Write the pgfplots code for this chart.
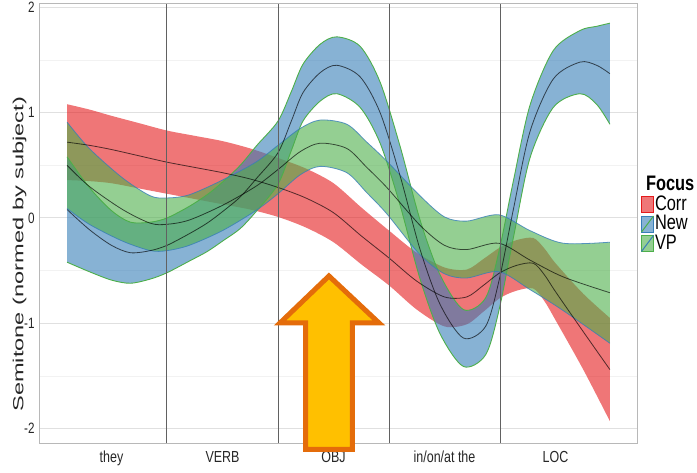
\documentclass[border=0pt]{standalone}
\usepackage{fontspec}
\setmainfont{Liberation Sans}
\newfontfamily\narrow[FakeStretch=0.78]{Liberation Sans}
\usepackage{graphicx}
\usepackage{pgfplots}
\usepackage{pgfplotstable}
\pgfplotsset{compat=1.18}
\usepgfplotslibrary{fillbetween}
\definecolor{cred}{HTML}{E41A1C}
\definecolor{cblue}{HTML}{377EB8}
\definecolor{cgreen}{HTML}{4DAF4A}
\definecolor{arrfill}{HTML}{FFC000}
\definecolor{arredge}{HTML}{E46C0A}

\pgfplotstableread{
u m lo hi
0.10 0.72 0.36 1.08
0.30 0.69 0.35 1.03
0.50 0.65 0.33 0.97
0.75 0.59 0.28 0.90
1.00 0.53 0.23 0.83
1.25 0.48 0.18 0.78
1.50 0.43 0.13 0.73
1.75 0.37 0.08 0.66
2.00 0.29 0.01 0.57
2.25 0.19 -0.09 0.47
2.50 0.05 -0.23 0.33
2.75 -0.17 -0.44 0.10
3.00 -0.38 -0.64 -0.12
3.25 -0.60 -0.87 -0.33
3.50 -0.75 -1.03 -0.47
3.70 -0.75 -1.01 -0.49
3.85 -0.64 -0.89 -0.39
4.00 -0.52 -0.76 -0.28
4.15 -0.45 -0.69 -0.21
4.30 -0.43 -0.67 -0.19
4.40 -0.54 -0.79 -0.29
4.50 -0.70 -0.97 -0.43
4.75 -1.08 -1.44 -0.72
4.99 -1.44 -1.93 -0.95
}\tcorr

\pgfplotstableread{
u m lo hi
0.10 0.08 -0.42 0.58
0.30 -0.11 -0.51 0.29
0.50 -0.26 -0.59 0.07
0.67 -0.33 -0.62 -0.04
0.85 -0.31 -0.58 -0.04
1.00 -0.26 -0.52 0.00
1.20 -0.15 -0.41 0.11
1.36 -0.05 -0.32 0.22
1.50 0.06 -0.22 0.34
1.66 0.20 -0.10 0.50
1.81 0.38 0.07 0.69
2.00 0.62 0.32 0.92
2.12 0.92 0.64 1.20
2.225 1.19 0.92 1.46
2.38 1.38 1.11 1.65
2.53 1.45 1.18 1.72
2.74 1.34 1.05 1.63
2.92 1.00 0.71 1.29
3.10 0.40 0.12 0.68
3.28 -0.30 -0.58 -0.02
3.46 -0.82 -1.10 -0.54
3.67 -1.14 -1.41 -0.87
3.87 -1.03 -1.30 -0.76
3.99 -0.60 -0.88 -0.32
4.12 0.08 -0.19 0.35
4.27 0.82 0.57 1.07
4.48 1.32 1.05 1.59
4.72 1.48 1.18 1.78
4.87 1.45 1.08 1.82
4.99 1.37 0.89 1.85
}\tnew

\pgfplotstableread{
u m lo hi
0.10 0.50 0.09 0.91
0.30 0.30 -0.06 0.66
0.60 0.08 -0.22 0.38
0.85 -0.05 -0.31 0.21
1.00 -0.06 -0.31 0.19
1.20 -0.02 -0.26 0.22
1.50 0.12 -0.12 0.36
1.80 0.30 0.07 0.53
2.00 0.46 0.23 0.69
2.20 0.63 0.41 0.85
2.38 0.71 0.49 0.93
2.62 0.66 0.43 0.89
2.80 0.48 0.24 0.72
2.98 0.29 0.04 0.54
3.28 -0.07 -0.35 0.21
3.50 -0.26 -0.53 0.01
3.70 -0.30 -0.57 -0.03
3.99 -0.24 -0.51 0.03
4.27 -0.40 -0.68 -0.12
4.57 -0.56 -0.88 -0.24
4.99 -0.71 -1.19 -0.23
}\tvp

\begin{document}
\begin{tikzpicture}
\begin{axis}[
  at={(0,0)}, anchor=south west,
  scale only axis, width=298.5pt, height=219.5pt,
  xmin=-0.144, xmax=5.234, ymin=-2.137, ymax=2.032,
  xtick={0.5,1.5,2.5,3.5,4.5},
  xticklabels={they,VERB,OBJ,in/on/at the,LOC},
  ytick={-2,-1,0,1,2}, yticklabels={-2,-1,0,1,2},
  minor ytick={-1.5,-0.5,0.5,1.5},
  ymajorgrids, yminorgrids,
  major grid style={draw=black!12, line width=0.5pt},
  minor grid style={draw=black!5, line width=0.4pt},
  axis line style={draw=black!28, line width=0.5pt},
  major tick length=0pt, minor tick length=0pt,
  tick label style={text=black!85},
  xticklabel style={font=\narrow\fontsize{8}{9}\selectfont, inner sep=0pt, yshift=-4pt},
  yticklabel style={font=\narrow\fontsize{7.5}{8}\selectfont, inner sep=0pt, xshift=-2.5pt},
  ylabel={\scalebox{1}[0.62]{Semitone (normed by subject)}},
  ylabel style={font=\fontsize{11.8}{13}\selectfont, text=black!85, at={(axis description cs:-0.034,0.43)}, anchor=center},
  clip=false,
  legend style={at={(1.0067,0.61)}, anchor=north west, draw=none, fill=none,
    inner sep=0pt, outer sep=0pt, row sep=0pt,
    font=\narrow\fontsize{10.5}{10.5}\selectfont,
    nodes={inner sep=0.5pt}},
  legend cell align=left,
]
\addlegendimage{empty legend}
\addlegendentry{\hspace*{-4.5pt}\textbf{Focus}}
\addlegendimage{legend image code/.code={\fill[cred, fill opacity=0.6] (0pt,-4pt) rectangle (6pt,4pt);}}
\addlegendentry{Corr}
\addlegendimage{legend image code/.code={\fill[cblue, fill opacity=0.6] (0pt,-4pt) rectangle (6pt,4pt); \draw[cgreen, line width=0.5pt] (0pt,-4pt) -- (6pt,4pt);}}
\addlegendentry{New}
\addlegendimage{legend image code/.code={\fill[cgreen, fill opacity=0.6] (0pt,-4pt) rectangle (6pt,4pt); \draw[cblue, line width=0.5pt] (0pt,-4pt) -- (6pt,4pt);}}
\addlegendentry{VP}

% Corr band
\addplot[name path=rh, draw=none, smooth, forget plot] table[x=u,y=hi]{\tcorr};
\addplot[name path=rl, draw=none, smooth, forget plot] table[x=u,y=lo]{\tcorr};
\addplot[fill=cred, fill opacity=0.6, draw=none, forget plot] fill between[of=rh and rl];
% New band
\addplot[name path=bh, draw=none, smooth, forget plot] table[x=u,y=hi]{\tnew};
\addplot[name path=bl, draw=none, smooth, forget plot] table[x=u,y=lo]{\tnew};
\addplot[fill=cblue, fill opacity=0.6, draw=none, forget plot] fill between[of=bh and bl];
\addplot[cgreen, line width=0.45pt, smooth, forget plot] table[x=u,y=hi]{\tnew};
\addplot[cgreen, line width=0.45pt, smooth, forget plot] table[x=u,y=lo]{\tnew};
% VP band
\addplot[name path=gh, draw=none, smooth, forget plot] table[x=u,y=hi]{\tvp};
\addplot[name path=gl, draw=none, smooth, forget plot] table[x=u,y=lo]{\tvp};
\addplot[fill=cgreen, fill opacity=0.6, draw=none, forget plot] fill between[of=gh and gl];
\addplot[cblue, line width=0.4pt, opacity=0.8, smooth, forget plot] table[x=u,y=hi]{\tvp};
\addplot[cblue, line width=0.4pt, opacity=0.8, smooth, forget plot] table[x=u,y=lo]{\tvp};
% mean lines
\addplot[black, opacity=0.65, line width=0.4pt, smooth, forget plot] table[x=u,y=m]{\tcorr};
\addplot[black, opacity=0.65, line width=0.4pt, smooth, forget plot] table[x=u,y=m]{\tnew};
\addplot[black, opacity=0.65, line width=0.4pt, smooth, forget plot] table[x=u,y=m]{\tvp};
% word boundaries
\addplot[black!62, line width=0.5pt, forget plot] coordinates {(1,-2.137) (1,2.032)};
\addplot[black!62, line width=0.5pt, forget plot] coordinates {(2,-2.137) (2,2.032)};
\addplot[black!62, line width=0.5pt, forget plot] coordinates {(3,-2.137) (3,2.032)};
\addplot[black!62, line width=0.5pt, forget plot] coordinates {(4,-2.137) (4,2.032)};

\coordinate (T) at (axis cs:2.459,-0.551);
\coordinate (HR) at (axis cs:2.910,-0.997);
\coordinate (SR) at (axis cs:2.671,-0.997);
\coordinate (BR) at (axis cs:2.671,-2.198);
\coordinate (BL) at (axis cs:2.248,-2.198);
\coordinate (SL) at (axis cs:2.248,-0.997);
\coordinate (HL) at (axis cs:2.018,-0.997);
\end{axis}
\pgfresetboundingbox
\path[use as bounding box] (-20pt,-14.5pt) rectangle (328.5pt,221.5pt);
\draw[fill=arrfill, draw=arredge, line width=2.5pt, miter limit=10] (T) -- (HR) -- (SR) -- (BR) -- (BL) -- (SL) -- (HL) -- cycle;
\end{tikzpicture}
\end{document}
